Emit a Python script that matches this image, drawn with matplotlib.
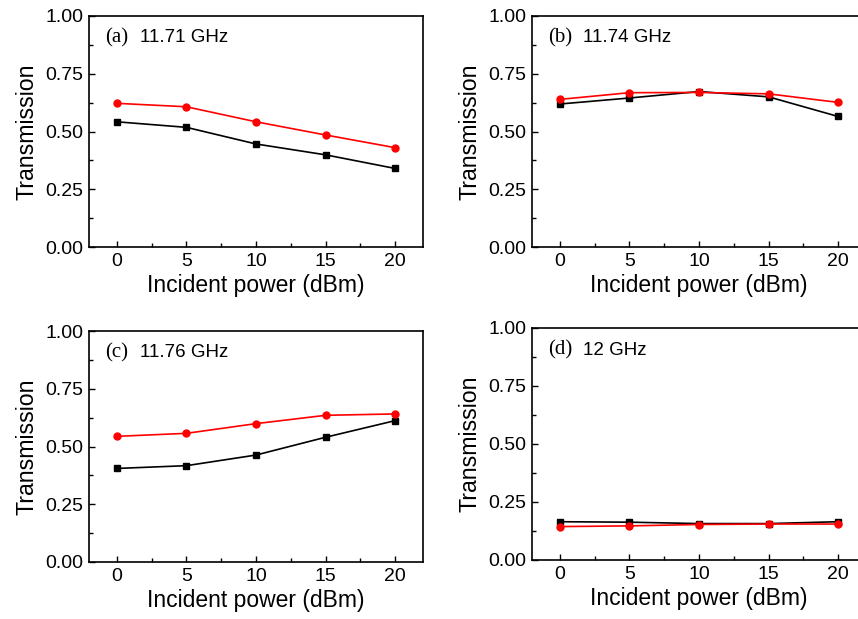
import matplotlib
matplotlib.use('Agg')
import matplotlib.pyplot as plt
from matplotlib.ticker import MultipleLocator

# Potência incidente (dBm)
power = [0, 5, 10, 15, 20]

# Transmissão (preto = quadrados, vermelho = círculos)
black_a = [0.542, 0.518, 0.446, 0.399, 0.340]
red_a = [0.622, 0.607, 0.542, 0.485, 0.430]
black_b = [0.619, 0.645, 0.673, 0.650, 0.565]
red_b = [0.639, 0.668, 0.669, 0.663, 0.626]
black_c = [0.405, 0.417, 0.463, 0.540, 0.612]
red_c = [0.544, 0.557, 0.599, 0.635, 0.641]
black_d = [0.165, 0.163, 0.157, 0.157, 0.165]
red_d = [0.144, 0.147, 0.153, 0.155, 0.155]

panels = [
    ('(a)', '11.71 GHz', black_a, red_a),
    ('(b)', '11.74 GHz', black_b, red_b),
    ('(c)', '11.76 GHz', black_c, red_c),
    ('(d)', '12 GHz', black_d, red_d),
]

W, H = 858, 619
# posições dos eixos em pixels: (esquerda, topo, base)
boxes = [(89, 16, 247), (532, 16, 247), (89, 331, 562), (532, 328, 560)]
axw = 334

fig = plt.figure(figsize=(W / 100, H / 100), dpi=100)
sans = 'Liberation Sans'
serif = 'Liberation Serif'

for (tag, freq, blk, red), (x0, top, bot) in zip(panels, boxes):
    ax = fig.add_axes([x0 / W, 1 - bot / H, axw / W, (bot - top) / H])
    ax.plot(power, blk, color='black', lw=1.2, marker='s', ms=5, zorder=3)
    ax.plot(power, red, color='red', lw=1.2, marker='o', ms=5, zorder=4)
    ax.set_xlim(-2, 22)
    ax.set_ylim(0, 1)
    ax.xaxis.set_major_locator(MultipleLocator(5))
    ax.xaxis.set_minor_locator(MultipleLocator(2.5))
    ax.yaxis.set_major_locator(MultipleLocator(0.25))
    ax.yaxis.set_minor_locator(MultipleLocator(0.125))
    ax.yaxis.set_major_formatter(matplotlib.ticker.FormatStrFormatter('%.2f'))
    ax.tick_params(which='both', direction='in', top=False, right=False, width=1)
    ax.tick_params(which='major', length=4, labelsize=14, pad=4)
    ax.tick_params(which='minor', length=3)
    for lab in ax.get_xticklabels() + ax.get_yticklabels():
        lab.set_fontfamily(sans)
    for sp in ax.spines.values():
        sp.set_linewidth(1.2)
    ax.set_xlabel('Incident power (dBm)', fontsize=16.5, fontfamily=sans, labelpad=3)
    ax.set_ylabel('Transmission', fontsize=16.7, fontfamily=sans, labelpad=5)
    ax.text(0.048, 0.905, tag, transform=ax.transAxes, fontsize=15,
            fontfamily=serif, va='center')
    ax.text(0.153, 0.905, freq, transform=ax.transAxes, fontsize=13.5,
            fontfamily=sans, va='center')

fig.savefig('out.png', dpi=100)
